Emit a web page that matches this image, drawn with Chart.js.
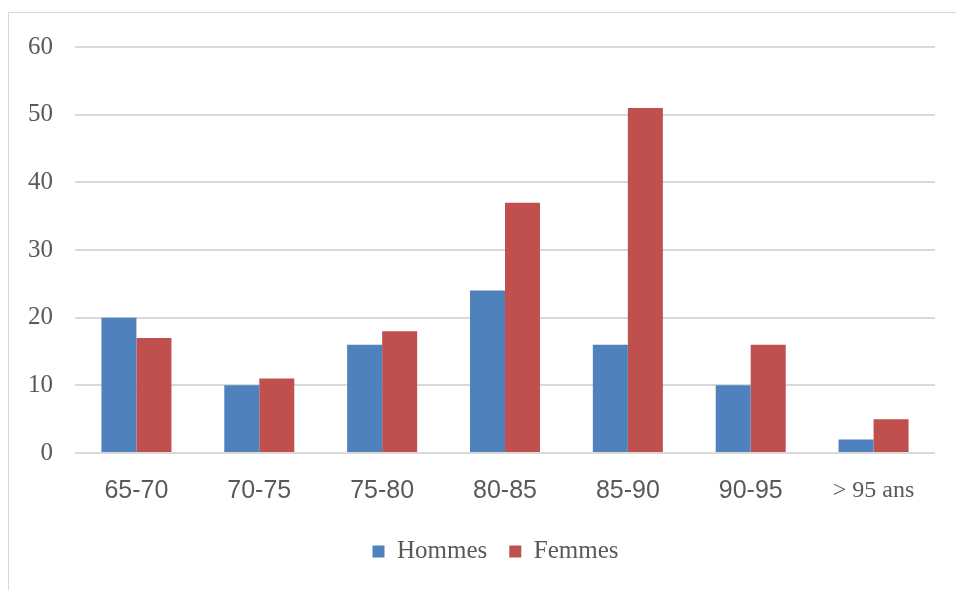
<!DOCTYPE html>
<html>
<head>
<meta charset="utf-8">
<script src="https://cdn.jsdelivr.net/npm/chart.js@4"></script>
<style>
  html, body { margin: 0; padding: 0; background: #fff; }
  .frame {
    position: absolute; left: 8px; top: 12px; width: 960px; height: 600px;
    border-left: 1px solid #D9D9D9; border-top: 1px solid #D9D9D9;
  }
  .chart-box { position: absolute; left: 0; top: 0; width: 956px; height: 590px; }
</style>
</head>
<body>
<div class="frame"></div>
<div class="chart-box"><canvas id="chart"></canvas></div>
<script>
// Age groups and counts
const categories = ['65-70', '70-75', '75-80', '80-85', '85-90', '90-95', '> 95 ans'];
const hommes = [20, 10, 16, 24, 16, 10, 2];
const femmes = [17, 11, 18, 37, 51, 16, 5];
const yTicks = [0, 10, 20, 30, 40, 50, 60];

const serif = '"Liberation Serif", "DejaVu Serif", serif';
const sans = '"Liberation Sans", Arial, sans-serif';
const textColor = '#595959';
const gridColor = '#D9D9D9';

// legend in the original sits a bit right of centre
const legendShift = {
  id: 'legendShift',
  afterLayout(chart) {
    if (chart.legend) {
      chart.legend.left += 28;
      chart.legend.right += 28;
    }
  }
};

const ctx = document.getElementById('chart').getContext('2d');
new Chart(ctx, {
  type: 'bar',
  data: {
    labels: categories,
    datasets: [
      { label: 'Hommes', data: hommes, backgroundColor: '#4F81BD', barPercentage: 1, categoryPercentage: 0.57 },
      { label: 'Femmes', data: femmes, backgroundColor: '#C0504D', barPercentage: 1, categoryPercentage: 0.57 }
    ]
  },
  plugins: [legendShift],
  options: {
    responsive: true,
    maintainAspectRatio: false,
    animation: false,
    layout: { padding: { left: 0, right: 21, top: 47, bottom: 16 } },
    plugins: {
      tooltip: { enabled: false },
      legend: {
        position: 'bottom',
        labels: {
          font: { family: serif, size: 25 },
          color: textColor,
          boxWidth: 12,
          boxHeight: 12,
          padding: 22
        }
      }
    },
    scales: {
      x: {
        grid: { display: false },
        border: { display: false },
        ticks: {
          color: textColor,
          padding: 15,
          maxRotation: 0,
          font: (c) => c.index === 6 ? { family: serif, size: 24 } : { family: sans, size: 25 }
        },
        afterFit: (scale) => { scale.height = 64; }
      },
      y: {
        min: 0,
        max: 60,
        afterBuildTicks: (scale) => { scale.ticks = yTicks.map(v => ({ value: v })); },
        grid: { color: gridColor, lineWidth: 2, drawTicks: false },
        border: { display: false },
        ticks: {
          color: textColor,
          padding: 22,
          font: { family: serif, size: 25 }
        },
        afterFit: (scale) => { scale.width = 75; }
      }
    }
  }
});
</script>
</body>
</html>
